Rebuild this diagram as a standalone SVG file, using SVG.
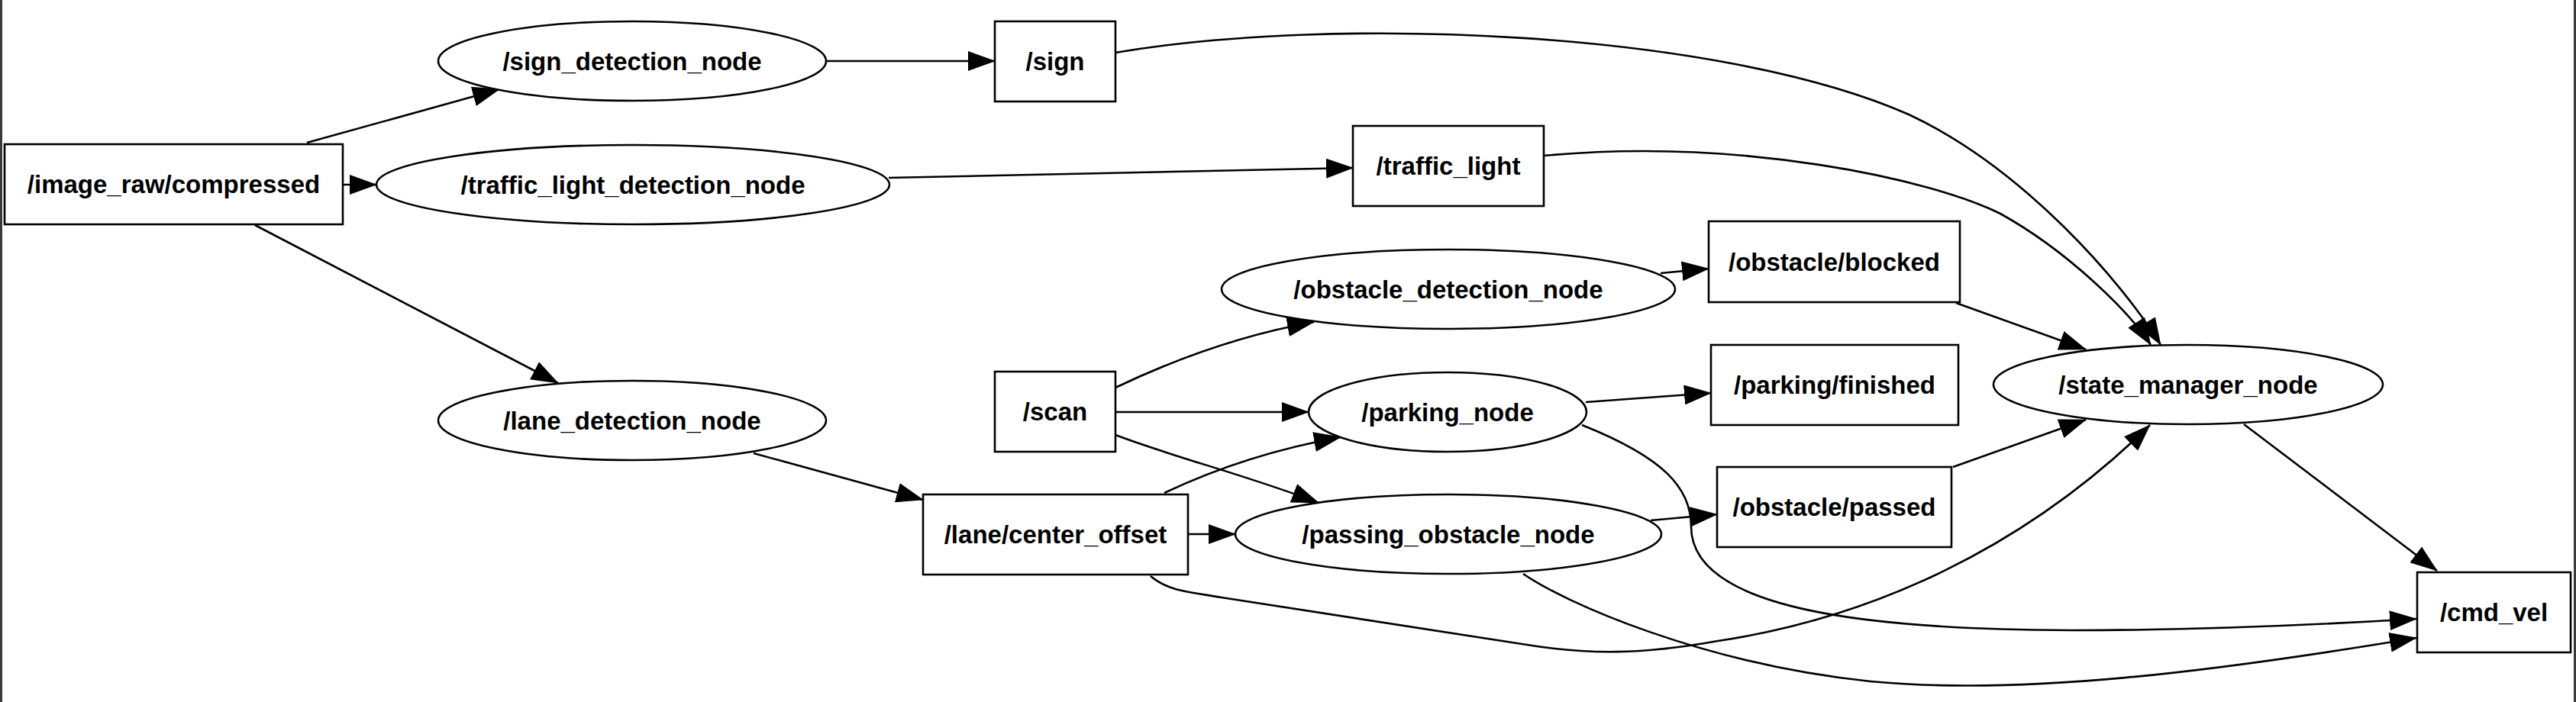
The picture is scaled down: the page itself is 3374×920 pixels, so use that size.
<svg xmlns="http://www.w3.org/2000/svg" width="3374" height="920" viewBox="0 0 3374 920">
<style>
.n{fill:#fff;stroke:#000;stroke-width:2.6}
.t{font-family:"Liberation Sans",Arial,Helvetica,sans-serif;font-weight:bold;font-size:33px;text-anchor:middle;fill:#000}
.e{fill:none;stroke:#000;stroke-width:2.6;marker-end:url(#arr)}
.b{stroke:#3a3a3a;stroke-width:3}
</style>
<defs>
<marker id="arr" markerUnits="userSpaceOnUse" markerWidth="36" markerHeight="26" viewBox="0 0 36 26" refX="35" refY="13" orient="auto"><path d="M0,0 L36,13 L0,26 z" fill="#000"/></marker>
</defs>
<rect x="0" y="0" width="3374" height="920" fill="#fff"/>
<line class="b" x1="1.5" y1="0" x2="1.5" y2="920"/>
<line class="b" x1="3372.5" y1="0" x2="3372.5" y2="920"/>
<g id="edges">
<path class="e" d="M402,187 L654,117"/>
<path class="e" d="M449,242 L493,242"/>
<path class="e" d="M334,295 L731,502"/>
<path class="e" d="M1083,80 L1303,80"/>
<path class="e" d="M1164,233 L1772,220"/>
<path class="e" d="M1461,69 C1750,20 2250,40 2500,150 C2650,220 2780,370 2830,452"/>
<path class="e" d="M2022,204 C2280,180 2530,235 2620,280 C2710,330 2790,410 2817,452"/>
<path class="e" d="M2175,358 L2238,352"/>
<path class="e" d="M2562,397 L2732,458"/>
<path class="e" d="M1461,508 C1530,475 1620,440 1721,422"/>
<path class="e" d="M1461,540 L1714,540"/>
<path class="e" d="M1461,570 C1540,600 1640,625 1727,659"/>
<path class="e" d="M1525,646 C1580,620 1660,590 1756,573"/>
<path class="e" d="M1556,700 L1618,700"/>
<path class="e" d="M987,594 L1209,655"/>
<path class="e" d="M2077,527 L2241,515"/>
<path class="e" d="M2072,557 C2180,600 2215,640 2215,690 C2215,800 2450,825 2713,826 C2900,826 3050,818 3165,811"/>
<path class="e" d="M2162,682 L2249,674"/>
<path class="e" d="M2558,612 L2732,550"/>
<path class="e" d="M1507,755 C1530,775 1560,776 1600,783 L2000,845 C2080,858 2150,858 2250,840 C2450,810 2650,720 2816,557"/>
<path class="e" d="M1995,752 C2050,790 2230,870 2450,893 C2650,912 2900,880 3165,836"/>
<path class="e" d="M2939,556 L3192,748"/>
</g>
<g id="n_image_raw"><rect class="n" x="6" y="189" width="443" height="105"/><text class="t" x="227.5" y="253">/image_raw/compressed</text></g>
<g id="n_sign_detection_node"><ellipse class="n" cx="828" cy="80" rx="254" ry="52"/><text class="t" x="828" y="92">/sign_detection_node</text></g>
<g id="n_traffic_light_detection_node"><ellipse class="n" cx="829" cy="242" rx="336" ry="52"/><text class="t" x="829" y="254">/traffic_light_detection_node</text></g>
<g id="n_lane_detection_node"><ellipse class="n" cx="828" cy="551" rx="254" ry="52"/><text class="t" x="828" y="563">/lane_detection_node</text></g>
<g id="n_sign"><rect class="n" x="1303" y="28" width="158" height="105"/><text class="t" x="1382" y="92">/sign</text></g>
<g id="n_traffic_light"><rect class="n" x="1772" y="165" width="250" height="105"/><text class="t" x="1897" y="229">/traffic_light</text></g>
<g id="n_obstacle_detection_node"><ellipse class="n" cx="1897" cy="379" rx="297" ry="52"/><text class="t" x="1897" y="391">/obstacle_detection_node</text></g>
<g id="n_scan"><rect class="n" x="1303" y="487" width="158" height="105"/><text class="t" x="1382" y="551">/scan</text></g>
<g id="n_parking_node"><ellipse class="n" cx="1896" cy="540" rx="182" ry="52"/><text class="t" x="1896" y="552">/parking_node</text></g>
<g id="n_lane_center_offset"><rect class="n" x="1209" y="648" width="347" height="105"/><text class="t" x="1382.5" y="712">/lane/center_offset</text></g>
<g id="n_passing_obstacle_node"><ellipse class="n" cx="1897" cy="700" rx="279" ry="52"/><text class="t" x="1897" y="712">/passing_obstacle_node</text></g>
<g id="n_obstacle_blocked"><rect class="n" x="2238" y="290" width="329" height="106"/><text class="t" x="2402.5" y="355">/obstacle/blocked</text></g>
<g id="n_parking_finished"><rect class="n" x="2241" y="452" width="324" height="105"/><text class="t" x="2403" y="516">/parking/finished</text></g>
<g id="n_obstacle_passed"><rect class="n" x="2249" y="612" width="307" height="105"/><text class="t" x="2402.5" y="676">/obstacle/passed</text></g>
<g id="n_state_manager_node"><ellipse class="n" cx="2866" cy="504" rx="255" ry="52"/><text class="t" x="2866" y="516">/state_manager_node</text></g>
<g id="n_cmd_vel"><rect class="n" x="3166" y="750" width="201" height="105"/><text class="t" x="3266.5" y="814">/cmd_vel</text></g>
</svg>
